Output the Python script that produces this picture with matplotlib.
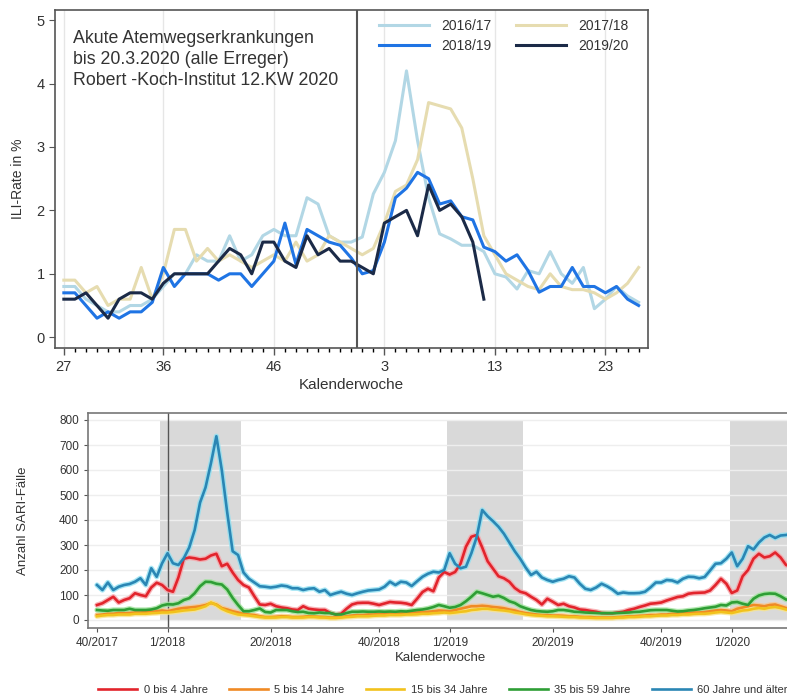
import numpy as np
import matplotlib.pyplot as plt

plt.rcParams['font.family'] = ['Liberation Sans', 'DejaVu Sans']

# --- top panel: ILI rate by season (week 27 .. week 26) ---
kw_top = list(range(27, 54)) + list(range(1, 27))
ili_1617 = [0.8, 0.8, 0.6, 0.5, 0.4, 0.4, 0.5, 0.5, 0.6, 0.8, 1.0, 1.0, 1.3, 1.2, 1.2, 1.6, 1.2, 1.3,
            1.6, 1.7, 1.6, 1.6, 2.2, 2.1, 1.6, 1.5, 1.5, 1.58, 2.26, 2.6, 3.1, 4.2, 3.1, 2.2, 1.63, 1.55,
            1.45, 1.45, 1.35, 1.0, 0.95, 0.76, 1.05, 1.0, 1.35, 1.0, 0.85, 1.1, 0.45, 0.6, 0.8, 0.65, 0.55]
ili_1718 = [0.9, 0.9, 0.7, 0.8, 0.5, 0.6, 0.6, 1.1, 0.6, 1.0, 1.7, 1.7, 1.2, 1.4, 1.2, 1.3, 1.2, 1.1,
            1.2, 1.3, 1.2, 1.5, 1.2, 1.3, 1.6, 1.5, 1.4, 1.3, 1.4, 1.8, 2.3, 2.4, 2.8, 3.7, 3.65, 3.6,
            3.3, 2.5, 1.6, 1.3, 1.0, 0.9, 0.8, 0.75, 1.0, 0.8, 0.75, 0.75, 0.7, 0.6, 0.7, 0.85, 1.1]
ili_1819 = [0.7, 0.7, 0.5, 0.3, 0.4, 0.3, 0.4, 0.4, 0.55, 1.1, 0.8, 1.0, 1.0, 1.0, 0.9, 1.0, 1.0, 0.8,
            1.0, 1.2, 1.8, 1.15, 1.7, 1.6, 1.5, 1.45, 1.25, 1.0, 1.05, 1.5, 2.2, 2.35, 2.6, 2.5, 2.1, 2.15,
            1.9, 1.85, 1.42, 1.35, 1.2, 1.3, 1.05, 0.71, 0.8, 0.8, 1.1, 0.8, 0.8, 0.7, 0.8, 0.6, 0.5]
ili_1920 = [0.6, 0.6, 0.7, 0.5, 0.3, 0.6, 0.7, 0.7, 0.6, 0.85, 1.0, 1.0, 1.0, 1.0, 1.2, 1.4, 1.3, 1.0,
            1.5, 1.5, 1.2, 1.1, 1.6, 1.3, 1.4, 1.2, 1.2, 1.1, 1.0, 1.8, 1.9, 2.0, 1.6, 2.4, 2.0, 2.1,
            1.9, 1.5, 0.6]
season_labels = ['2016/17', '2017/18', '2018/19', '2019/20']
season_colors = ['#b2d7e5', '#e6dcb0', '#1f74e4', '#1b2a47']
top_tick_weeks = [27, 36, 46, 3, 13, 23]

# --- bottom panel: SARI cases by age group, week 40/2017 .. 12/2020 ---
kw_bottom = ['%d/2017' % w for w in range(40, 53)] + ['%d/2018' % w for w in range(1, 53)] + \
            ['%d/2019' % w for w in range(1, 53)] + ['%d/2020' % w for w in range(1, 13)]
sari_0_4 = [60, 67, 80, 93, 70, 80, 87, 107, 100, 95, 130, 149, 140, 120, 113, 170, 245, 250, 247, 242,
            245, 258, 265, 215, 225, 190, 160, 140, 130, 95, 62, 60, 65, 55, 50, 47, 42, 40, 55, 45,
            42, 40, 40, 28, 22, 25, 45, 62, 68, 69, 69, 65, 60, 66, 72, 70, 69, 66, 60, 85,
            112, 125, 115, 170, 192, 182, 192, 225, 293, 333, 340, 290, 235, 205, 175, 167, 153, 128, 113, 107,
            93, 80, 62, 85, 73, 60, 65, 55, 50, 42, 40, 36, 33, 28, 27, 27, 30, 33, 40, 45,
            52, 58, 65, 67, 70, 78, 85, 92, 95, 105, 108, 109, 110, 118, 140, 165, 145, 108, 118, 175,
            200, 245, 265, 250, 255, 270, 250, 220, 215]
sari_5_14 = [20, 22, 25, 25, 28, 27, 28, 30, 30, 32, 33, 35, 38, 35, 40, 45, 48, 50, 52, 55,
             60, 68, 62, 48, 42, 35, 30, 25, 22, 20, 15, 12, 12, 13, 15, 14, 12, 12, 13, 15,
             14, 13, 12, 10, 10, 12, 15, 18, 20, 20, 22, 22, 25, 25, 27, 25, 27, 28, 30, 30,
             32, 33, 35, 38, 37, 35, 40, 45, 50, 55, 55, 57, 55, 52, 50, 47, 42, 38, 32, 28,
             25, 22, 20, 20, 18, 18, 17, 15, 15, 13, 12, 12, 10, 10, 10, 10, 12, 13, 15, 15,
             17, 18, 20, 20, 22, 22, 25, 25, 27, 28, 30, 30, 32, 35, 38, 40, 38, 35, 45, 50,
             55, 60, 58, 55, 60, 62, 55, 48, 45]
sari_15_34 = [15, 18, 20, 20, 22, 22, 22, 25, 25, 25, 27, 28, 30, 30, 32, 35, 38, 40, 42, 48,
              55, 70, 60, 45, 35, 28, 22, 20, 18, 15, 12, 10, 10, 10, 12, 12, 10, 10, 10, 12,
              12, 10, 10, 8, 8, 10, 12, 13, 15, 15, 15, 17, 18, 18, 20, 20, 20, 22, 22, 23,
              25, 25, 27, 28, 30, 28, 30, 33, 35, 40, 42, 45, 45, 42, 40, 38, 35, 30, 27, 23,
              20, 18, 17, 15, 15, 14, 13, 12, 12, 10, 10, 9, 8, 8, 8, 8, 10, 10, 12, 12,
              13, 15, 15, 17, 18, 18, 20, 20, 22, 22, 24, 25, 25, 27, 30, 32, 30, 28, 33, 38,
              40, 45, 48, 45, 50, 52, 48, 42, 40]
sari_35_59 = [40, 38, 37, 40, 40, 40, 45, 40, 40, 40, 42, 47, 58, 63, 62, 67, 80, 87, 107, 135,
              153, 152, 145, 142, 122, 88, 60, 35, 35, 40, 46, 32, 30, 40, 40, 40, 35, 32, 33, 28,
              27, 30, 28, 28, 22, 22, 28, 33, 33, 34, 33, 33, 34, 33, 34, 33, 35, 34, 37, 40,
              42, 46, 52, 60, 55, 49, 52, 60, 75, 93, 113, 107, 100, 93, 97, 88, 75, 68, 55, 47,
              40, 36, 34, 33, 35, 40, 40, 37, 33, 32, 30, 29, 28, 27, 27, 27, 28, 29, 30, 32,
              33, 36, 39, 40, 40, 40, 37, 34, 35, 38, 40, 43, 47, 50, 53, 60, 58, 70, 72, 65,
              60, 85, 98, 104, 106, 105, 95, 82, 80]
sari_60 = [140, 120, 150, 120, 133, 140, 144, 153, 167, 140, 207, 173, 227, 267, 227, 220, 247, 290, 360, 470,
           530, 627, 735, 600, 430, 275, 260, 190, 165, 150, 135, 133, 130, 133, 138, 135, 127, 127, 120, 125,
           127, 113, 120, 100, 107, 113, 105, 100, 107, 113, 118, 120, 122, 133, 153, 140, 153, 150, 136, 155,
           173, 185, 193, 190, 200, 267, 225, 207, 213, 267, 333, 440, 415, 395, 373, 345, 310, 275, 245, 210,
           180, 193, 170, 160, 153, 160, 165, 175, 170, 145, 125, 120, 130, 145, 135, 122, 105, 110, 107, 107,
           108, 113, 130, 150, 150, 160, 158, 150, 165, 173, 172, 167, 172, 198, 225, 227, 245, 270, 215, 245,
           295, 282, 310, 330, 340, 328, 338, 340, 345]
age_labels = ['0 bis 4 Jahre', '5 bis 14 Jahre', '15 bis 34 Jahre', '35 bis 59 Jahre', '60 Jahre und älter']
age_colors = ['#e2242c', '#f08a24', '#f2c21c', '#2e9e35', '#2a86b4']
halo_colors = ['#f7a3a8', '#f8c690', '#f8e48a', '#9ee39a', '#8fe0f2']
bottom_ticks = ['40/2017', '1/2018', '20/2018', '40/2018', '1/2019', '20/2019', '40/2019', '1/2020']
flu_seasons = [('52/2017', '14/2018'), ('1/2019', '14/2019'), ('1/2020', '12/2020')]

fig = plt.figure(figsize=(7.87, 7.0), dpi=100)
txtc = '#333333'

# ---------------- top chart ----------------
ax = fig.add_axes([55/787, 1 - 348/700, 593/787, 338/700])
xt = np.arange(len(kw_top))
lines = {}
for vals, lab, col in zip([ili_1617, ili_1718, ili_1819, ili_1920], season_labels, season_colors):
    lines[lab], = ax.plot(xt[:len(vals)], vals, color=col, lw=2.2, label=lab)
ax.axvline(26.5, color='#555555', lw=1.5)
major = [kw_top.index(w) for w in top_tick_weeks]
ax.set_xticks(major)
ax.set_xticklabels([str(w) for w in top_tick_weeks])
ax.set_xticks(xt, minor=True)
for m in major:
    ax.axvline(m, color='#e6e6e6', lw=1, zorder=0)
ax.set_xlim(-0.8, 52.85)
ax.set_ylim(-0.17, 5.16)
ax.set_yticks(range(6))
ax.tick_params(axis='both', colors='#555555', labelcolor=txtc, labelsize=10.5)
ax.tick_params(axis='x', which='major', length=5, width=1)
ax.tick_params(axis='x', which='minor', length=3, width=1)
ax.tick_params(axis='y', length=4)
for s in ax.spines.values():
    s.set_color('#555555')
    s.set_linewidth(1.2)
ax.set_xlabel('Kalenderwoche', fontsize=11, color=txtc, labelpad=3)
ax.set_ylabel('ILI-Rate in %', fontsize=10, color=txtc, labelpad=8)
ax.text(0.03, 0.94, 'Akute Atemwegserkrankungen\nbis 20.3.2020 (alle Erreger)\nRobert -Koch-Institut 12.KW 2020',
        transform=ax.transAxes, va='top', ha='left', fontsize=12.8, color=txtc, linespacing=1.28)
order = ['2016/17', '2018/19', '2017/18', '2019/20']
ax.legend([lines[k] for k in order], order, loc='upper right', bbox_to_anchor=(0.976, 0.99),
          borderaxespad=0, ncol=2, frameon=False, fontsize=10, handlelength=3.6, columnspacing=1.8,
          handletextpad=0.85, labelspacing=0.45, labelcolor=txtc)

# ---------------- bottom chart ----------------
bx = fig.add_axes([88/787, 1 - 628/700, 704/787, 215/700])
xb = np.arange(len(kw_bottom))
for a, b in flu_seasons:
    i0 = kw_bottom.index(a) - 0.4
    i1 = kw_bottom.index(b) + 0.5
    bx.fill_between([i0, i1], 0, 800, color='#d9d9d9', lw=0, zorder=0)
for yv in range(0, 900, 100):
    bx.axhline(yv, color='#eeeeee', lw=1, zorder=0.5)
bx.axvline(kw_bottom.index('1/2018'), color='#555555', lw=1.0, zorder=1)
for vals, lab, col, hc in zip([sari_0_4, sari_5_14, sari_15_34, sari_35_59, sari_60],
                              age_labels, age_colors, halo_colors):
    bx.plot(xb, vals, color=hc, lw=3.8, alpha=0.8, zorder=2, solid_capstyle='round')
    bx.plot(xb, vals, color=col, lw=1.9, label=lab, zorder=3)
bx.set_xticks([kw_bottom.index(t) for t in bottom_ticks])
bx.set_xticklabels(bottom_ticks)
bx.set_yticks(range(0, 900, 100))
bx.set_xlim(-1.66, 128.1)
bx.set_ylim(-32, 828)
bx.tick_params(axis='both', colors='#555555', labelcolor=txtc, length=3)
bx.tick_params(axis='x', labelsize=8.5)
bx.tick_params(axis='y', labelsize=8.5)
for s in bx.spines.values():
    s.set_color('#777777')
    s.set_linewidth(1.2)
bx.spines['right'].set_visible(False)
bx.set_xlabel('Kalenderwoche', fontsize=9.5, color=txtc, labelpad=2)
bx.set_ylabel('Anzahl SARI-Fälle', fontsize=9.5, color=txtc, labelpad=22)
fig.legend(*bx.get_legend_handles_labels(), loc='center left', bbox_to_anchor=(88/787, 1 - 690/700),
           ncol=5, frameon=False, fontsize=8, handlelength=3.5, columnspacing=1.9,
           handletextpad=0.6, labelcolor=txtc)

fig.savefig('out.png', dpi=100)
